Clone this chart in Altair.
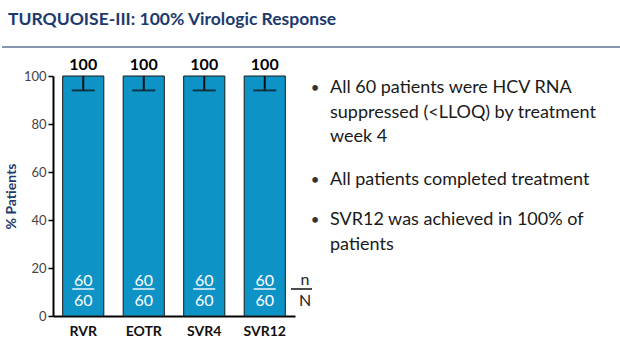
import altair as alt
import pandas as pd

categories = ["RVR", "EOTR", "SVR4", "SVR12"]
values = [100, 100, 100, 100]
err_low = [94, 94, 94, 94]
n_vals = [60, 60, 60, 60]
N_vals = [60, 60, 60, 60]
title_text = "TURQUOISE-III: 100% Virologic Response"
bullets = [
    ["All 60 patients were HCV RNA", "suppressed (<LLOQ) by treatment", "week 4"],
    ["All patients completed treatment"],
    ["SVR12 was achieved in 100% of", "patients"],
]

df = pd.DataFrame({
    "cat": categories,
    "val": values,
    "lo": err_low,
    "n": [str(v) for v in n_vals],
    "N": [str(v) for v in N_vals],
    "lab": [str(v) for v in values],
})

BAR = "#0d93c6"
NAVY = "#1c3a6e"
FONT = "Lato"

x = alt.X("cat:N", sort=categories, title=None,
          scale=alt.Scale(paddingInner=0.32, paddingOuter=0.16),
          axis=alt.Axis(labelAngle=0, labelFont=FONT, labelFontSize=14, labelFontWeight="bold",
                        labelColor="#111", ticks=False, domainColor="#000", domainWidth=2,
                        labelPadding=8))
y_scale = alt.Scale(domain=[0, 100], nice=False)
y = alt.Y("val:Q", scale=y_scale, title="% Patients",
          axis=alt.Axis(values=[0, 20, 40, 60, 80, 100], grid=False, domainColor="#000",
                        domainWidth=2, tickColor="#000", tickSize=5, tickWidth=1.5,
                        labelFont=FONT, labelFontSize=13, labelColor="#444", labelPadding=2,
                        titleFont=FONT, titleFontSize=14, titleFontWeight="bold",
                        titleColor=NAVY, titlePadding=5))

base = alt.Chart(df)
bars = base.mark_bar(color=BAR, stroke="#1a1a1a", strokeWidth=1).encode(x=x, y=y)
err = base.mark_rule(color="#111", strokeWidth=2).encode(
    x=alt.X("cat:N", sort=categories), y=alt.Y("lo:Q", scale=y_scale), y2="val:Q")
cap = base.mark_tick(color="#111", thickness=2, size=23).encode(
    x=alt.X("cat:N", sort=categories), y=alt.Y("lo:Q", scale=y_scale))
top_lab = base.mark_text(font=FONT, fontSize=16, fontWeight="bold", color="#000",
                         baseline="bottom", dy=-3).encode(
    x=alt.X("cat:N", sort=categories), y=alt.Y("val:Q", scale=y_scale), text="lab:N")

n_txt = base.mark_text(font=FONT, fontSize=16, color="white", baseline="middle").encode(
    x=alt.X("cat:N", sort=categories), y=alt.value(205), text="n:N")
frac = base.mark_tick(color="white", thickness=2, size=22, orient="horizontal").encode(
    x=alt.X("cat:N", sort=categories), y=alt.value(213))
N_txt = base.mark_text(font=FONT, fontSize=16, color="white", baseline="middle").encode(
    x=alt.X("cat:N", sort=categories), y=alt.value(225), text="N:N")

one = alt.Chart(pd.DataFrame({"k": [0]}))
n_out = one.mark_text(font=FONT, fontSize=16, color="#222", baseline="middle").encode(
    x=alt.value(252), y=alt.value(204), text=alt.value("n"))
line_out = one.mark_rule(color="#111", strokeWidth=1.5).encode(
    x=alt.value(238), x2=alt.value(259), y=alt.value(213))
N_out = one.mark_text(font=FONT, fontSize=16, color="#222", baseline="middle").encode(
    x=alt.value(252), y=alt.value(225), text=alt.value("N"))

title = one.mark_text(font=FONT, fontSize=17.5, fontWeight="bold", color=NAVY, align="left",
                      baseline="middle").encode(
    x=alt.value(-45), y=alt.value(-56), text=alt.value(title_text))
hline = one.mark_rule(color="#8796b0", strokeWidth=2).encode(
    x=alt.value(-51), x2=alt.value(567), y=alt.value(-29))

layers = [bars, err, cap, top_lab, n_txt, frac, N_txt, n_out, line_out, N_out, title, hline]
bullet_y = [12, 104, 144]
for lines, by in zip(bullets, bullet_y):
    layers.append(one.mark_text(font=FONT, fontSize=18, color="#1a1a1a", align="left",
                                baseline="middle", lineHeight=24.5).encode(
        x=alt.value(277), y=alt.value(by), text=alt.value(lines)))
    layers.append(one.mark_text(font=FONT, fontSize=15, color="#333", align="center",
                                baseline="middle").encode(
        x=alt.value(262), y=alt.value(by), text=alt.value("•")))

chart = alt.layer(*layers).properties(
    width=242, height=240,
    autosize=alt.AutoSizeParams(type="none"),
    padding={"left": 53, "top": 76, "right": 325, "bottom": 28},
    background="white",
).configure_view(stroke=None)

chart.save("out.html", embed_options={"renderer": "svg", "actions": False})
